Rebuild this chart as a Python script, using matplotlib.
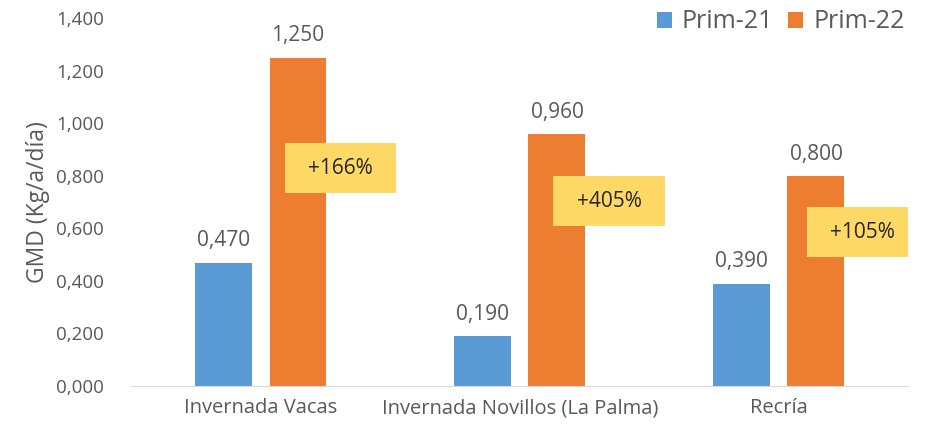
import matplotlib
matplotlib.use("Agg")
import matplotlib.pyplot as plt
import numpy as np

categorias = ["Invernada Vacas", "Invernada Novillos (La Palma)", "Recría"]
prim21 = [0.470, 0.190, 0.390]
prim22 = [1.250, 0.960, 0.800]
variacion = ["+166%", "+405%", "+105%"]
# posición de las cajas de variación (desplazamiento x respecto a la categoría, y en kg)
caja_dx = [0.307, 0.344, 0.324]
caja_y = [0.829, 0.704, 0.586]

azul = "#5B9BD5"
naranja = "#ED7D31"
amarillo = "#FFD966"
gris = "#595959"

plt.rcParams["font.family"] = ["Open Sans", "DejaVu Sans"]

fig = plt.figure(figsize=(9.26, 4.32), dpi=100)
ax = fig.add_axes([0.142, 0.1065, 0.839, 0.8515])

x = np.arange(len(categorias))
ancho = 0.22
off = 0.143
b1 = ax.bar(x - off, prim21, ancho, color=azul, label="Prim-21")
b2 = ax.bar(x + off, prim22, ancho, color=naranja, label="Prim-22")

def fmt(v):
    return f"{v:,.3f}".replace(".", ",")

for bars, vals in ((b1, prim21), (b2, prim22)):
    for r, v in zip(bars, vals):
        ax.annotate(fmt(v), (r.get_x() + r.get_width() / 2, v),
                    xytext=(0, 8), textcoords="offset points",
                    ha="center", va="bottom", fontsize=15, color=gris)

for i, t in enumerate(variacion):
    cx = x[i] + caja_dx[i]
    cy = caja_y[i]
    w, h = 0.43, 0.19
    ax.add_patch(plt.Rectangle((cx - w / 2, cy - h / 2), w, h,
                               facecolor=amarillo, edgecolor="none", zorder=3))
    ax.text(cx, cy, t, ha="center", va="center", fontsize=15,
            color="#262626", zorder=4)

ax.set_xlim(-0.5, 2.5)
ax.set_ylim(0, 1.4)
ax.set_yticks(np.arange(0, 1.41, 0.2))
ax.set_yticklabels([fmt(v) for v in np.arange(0, 1.41, 0.2)])
ax.set_xticks(x)
ax.set_xticklabels(categorias)
ax.tick_params(axis="both", length=0, labelsize=13.5, colors=gris)
ax.tick_params(axis="x", pad=9, labelsize=14.5)
ax.tick_params(axis="y", pad=20)
for s in ("top", "right", "left"):
    ax.spines[s].set_visible(False)
ax.spines["bottom"].set_color("#D9D9D9")
ax.set_ylabel("GMD (Kg/a/día)", fontsize=16.5, color=gris, labelpad=4)

ax.legend(loc="upper right", bbox_to_anchor=(1.024, 1.085), ncol=2, frameon=False,
          fontsize=18, labelcolor=gris, handlelength=0.6, handleheight=0.6,
          handletextpad=0.4, columnspacing=0.6)

fig.savefig("out.png", dpi=100)
